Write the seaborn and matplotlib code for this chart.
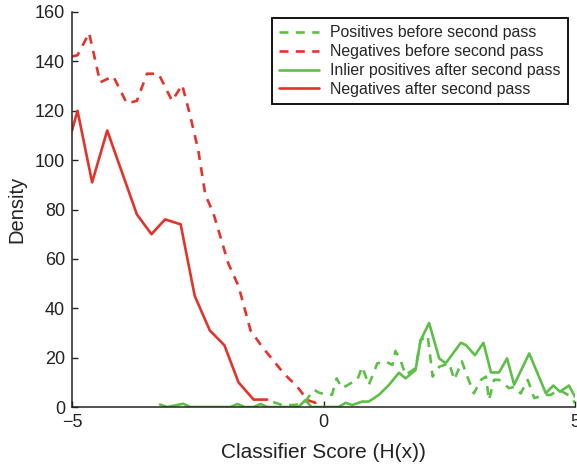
import matplotlib
matplotlib.use("Agg")
import matplotlib.pyplot as plt
import seaborn as sns
import numpy as np

# ---- data ----
neg_after_x = [-5.00, -4.89, -4.60, -4.30, -3.71, -3.42, -3.15, -2.84, -2.56, -2.26, -1.97, -1.69, -1.39, -1.12]
neg_after_y = [112, 120, 91, 112, 78, 70, 76, 74, 45, 31, 25, 10, 3, 3]

neg_before_x = [-5.00, -4.89, -4.66, -4.44, -4.18, -3.91, -3.71, -3.51, -3.28, -3.01, -2.81, -2.65,
                -2.49, -2.35, -2.19, -2.05, -1.89, -1.69, -1.45, -1.22, -1.06, -0.79, -0.52, -0.32, -0.16, -0.02]
neg_before_y = [142, 142.5, 151.5, 131.5, 134, 123, 124, 135, 135, 124, 130.5, 118,
                104, 86, 78.5, 69, 58, 49, 31, 24.4, 20.4, 13.6, 8.2, 2.8, 1.7, 3.3]

pos_before_x = [-1.00, -0.82, -0.59, -0.39, -0.19, -0.09, 0.07, 0.17, 0.26, 0.37, 0.54, 0.67, 0.77, 0.90,
                1.07, 1.24, 1.37, 1.43, 1.53, 1.63, 1.83, 1.93, 2.07, 2.17, 2.30, 2.50, 2.60, 2.75, 2.86,
                2.99, 3.13, 3.23, 3.29, 3.39, 3.49, 3.69, 3.79, 3.92, 4.06, 4.19, 4.39, 4.52, 4.66, 4.75,
                4.92, 5.00]
pos_before_y = [2, 0.8, 0.8, 1.5, 7, 5.8, 4.9, 5.0, 11.6, 7.6, 9.6, 10.9, 16.3, 8.9,
                17.7, 18.4, 17, 22.7, 19, 13, 15.7, 27, 29, 12.3, 16.3, 17.7, 11, 18.5, 12.3,
                5.5, 11, 12.3, 2.8, 11, 11, 7.6, 8.2, 5.5, 11, 3.6, 4.9, 4.9, 6.9, 6.2,
                4.2, 1.5]

inlier_after_x = [-3.25, -3.11, -2.79, -2.65, -1.85, -1.71, -1.57, -1.39, -1.25, -1.12, -0.50, -0.36, -0.24,
                  0.30, 0.44, 0.57, 0.77, 0.90, 1.10, 1.30, 1.50, 1.63, 1.83, 1.93, 2.10, 2.30, 2.43,
                  2.73, 2.83, 3.01, 3.18, 3.33, 3.49, 3.65, 3.79, 4.09, 4.42, 4.57, 4.70, 4.88, 5.00]
inlier_after_y = [1, 0, 1.3, 0, 0, 1.2, 0, 0, 1.2, 0, 0, 2.8, 0,
                  0, 1.7, 0.8, 2.2, 2.2, 4.9, 8.9, 13.9, 11.6, 15, 27, 34, 19.7, 17.7,
                  26, 25.1, 21, 26, 14, 14, 19.7, 9, 21.7, 5.6, 8.7, 6.2, 8.7, 4.2]

labels = ["Positives before second pass", "Negatives before second pass",
          "Inlier positives after second pass", "Negatives after second pass"]
xticks = [-5, 0, 5]
yticks = [0, 20, 40, 60, 80, 100, 120, 140, 160]

RED = "#e5322a"
GREEN = "#5dbf47"

sns.set_style("ticks")
plt.rcParams['font.family'] = ['Liberation Sans', 'DejaVu Sans']
plt.rcParams['axes.unicode_minus'] = True

fig = plt.figure(figsize=(5.77, 4.66), dpi=100)
ax = fig.add_axes([72/577, 1-407/466, (575-72)/577, (407-12)/466])

lw = 1.9
dash = (0, (3.4, 2.8))
sns.lineplot(x=pos_before_x, y=pos_before_y, ax=ax, color=GREEN, lw=lw, linestyle=dash,
             sort=False, estimator=None, label=labels[0])
sns.lineplot(x=neg_before_x, y=neg_before_y, ax=ax, color=RED, lw=lw, linestyle=dash,
             sort=False, estimator=None, label=labels[1])
sns.lineplot(x=inlier_after_x, y=inlier_after_y, ax=ax, color=GREEN, lw=lw,
             sort=False, estimator=None, label=labels[2])
sns.lineplot(x=neg_after_x, y=neg_after_y, ax=ax, color=RED, lw=lw,
             sort=False, estimator=None, label=labels[3])

ax.set_xlim(-5, 5)
ax.set_ylim(0, 160)
ax.set_xticks(xticks)
ax.set_xticklabels(["\u22125", "0", "5"])
ax.set_yticks(yticks)
ax.tick_params(direction="in", length=4, width=1, labelsize=13, colors="#222222", pad=5)
for s in ["top", "right"]:
    ax.spines[s].set_visible(False)
for s in ["left", "bottom"]:
    ax.spines[s].set_linewidth(1.1)
    ax.spines[s].set_color("#222222")
ax.set_xlabel("Classifier Score (H(x))", fontsize=15, color="#222222", labelpad=9)
ax.set_ylabel("Density", fontsize=14.5, color="#222222", labelpad=6)

leg = ax.legend(loc="upper right", bbox_to_anchor=(568/577, 1-18/466), bbox_transform=fig.transFigure,
                borderaxespad=0, fontsize=11.4, frameon=True, fancybox=False, handlelength=2.5,
                handletextpad=0.75, borderpad=0.45, labelspacing=0.25)
leg.get_frame().set_edgecolor("black")
leg.get_frame().set_linewidth(1.3)
leg.get_frame().set_alpha(1)

fig.savefig("out.png", dpi=100)
